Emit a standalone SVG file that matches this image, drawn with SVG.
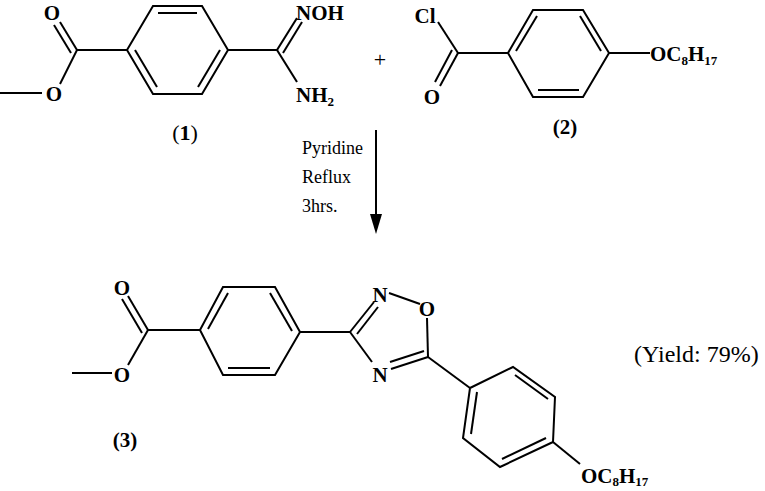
<svg xmlns="http://www.w3.org/2000/svg" width="765" height="491" viewBox="0 0 765 491">
<style>
line,polyline,polygon.r{stroke:#000;stroke-width:2;fill:none}
text{font-family:"Liberation Serif",serif;fill:#000}
.a{font-weight:bold;font-size:21px;text-anchor:middle}
.l{font-weight:bold;font-size:21px;text-anchor:start}
.s{font-size:13px}
.c{font-size:18px}
</style>
<rect width="765" height="491" fill="#fff"/>
<g id="m1">
<line x1="0" y1="93" x2="42" y2="93"/>
<text class="a" x="54" y="101">O</text>
<line x1="60" y1="84" x2="77" y2="50"/>
<line x1="77" y1="50" x2="60" y2="22"/><line x1="71" y1="53" x2="54" y2="25"/>
<text class="a" x="52" y="20">O</text>
<line x1="77" y1="50" x2="127" y2="50"/>
<polygon class="r" points="127,50 153,6 202,6 228,50 202,94 153,94"/>
<line x1="158" y1="13" x2="197" y2="13"/><line x1="135" y1="50" x2="157" y2="87"/><line x1="220" y1="50" x2="198" y2="87"/>
<line x1="228" y1="50" x2="277" y2="50"/>
<line x1="277" y1="50" x2="297" y2="18"/><line x1="283" y1="53" x2="302" y2="22"/>
<text class="l" x="296" y="20">NOH</text>
<line x1="277" y1="50" x2="297" y2="82"/>
<text class="l" x="296" y="102">NH<tspan class="s" dy="4">2</tspan></text>
<text x="185" y="140" font-size="22" text-anchor="middle">(<tspan font-weight="bold">1</tspan>)</text>
</g>
<text x="380" y="67" font-size="22" text-anchor="middle">+</text>
<g id="m2">
<text class="a" x="425" y="23">Cl</text>
<line x1="438" y1="22" x2="458" y2="53"/>
<line x1="458" y1="53" x2="440" y2="86"/><line x1="452" y1="50" x2="435" y2="82"/>
<text class="a" x="432" y="104">O</text>
<line x1="458" y1="53" x2="508" y2="53"/>
<polygon class="r" points="508,53 533,10 583,10 609,53 583,97 533,97"/>
<line x1="516" y1="51" x2="537" y2="16"/><line x1="580" y1="16" x2="601" y2="51"/><line x1="538" y1="90" x2="579" y2="90"/>
<line x1="609" y1="53" x2="650" y2="53"/>
<text class="l" x="650" y="61">OC<tspan class="s" dy="4">8</tspan><tspan dy="-4">H</tspan><tspan class="s" dy="4">17</tspan></text>
<text class="a" x="565" y="134">(2)</text>
</g>
<g id="arrow">
<line x1="376" y1="130" x2="376" y2="218"/>
<polygon points="370,214 376,234 382,214" fill="#000"/>
<text class="c" x="302" y="154">Pyridine</text>
<text class="c" x="302" y="183">Reflux</text>
<text class="c" x="302" y="212">3hrs.</text>
</g>
<g id="m3">
<line x1="72" y1="373" x2="112" y2="373"/>
<text class="a" x="122" y="382">O</text>
<line x1="128" y1="365" x2="148" y2="330"/>
<line x1="148" y1="330" x2="128" y2="296"/><line x1="142" y1="333" x2="122" y2="299"/>
<text class="a" x="122" y="295">O</text>
<line x1="148" y1="330" x2="200" y2="330"/>
<polygon class="r" points="200,330 223,287 275,287 300,332 275,375 223,375"/>
<line x1="208" y1="329" x2="228" y2="293"/><line x1="270" y1="293" x2="292" y2="331"/><line x1="228" y1="368" x2="270" y2="368"/>
<line x1="300" y1="332" x2="350" y2="332"/>
<line x1="350" y1="332" x2="374" y2="302"/><line x1="357" y1="334" x2="378" y2="307"/>
<text class="a" x="380" y="302">N</text>
<line x1="389" y1="293" x2="420" y2="304"/>
<text class="a" x="427" y="316">O</text>
<line x1="427" y1="318" x2="428" y2="357"/>
<line x1="428" y1="357" x2="391" y2="369"/><line x1="424" y1="351" x2="390" y2="362"/>
<text class="a" x="380" y="382">N</text>
<line x1="350" y1="332" x2="372" y2="362"/>
<line x1="428" y1="357" x2="470" y2="388"/>
<polygon class="r" points="470,388 513,367 555,397 553,442 500,467 463,438"/>
<line x1="515" y1="375" x2="548" y2="399"/><line x1="477" y1="392" x2="471" y2="434"/><line x1="502" y1="459" x2="546" y2="438"/>
<line x1="553" y1="442" x2="580" y2="464"/>
<text class="l" x="581" y="483">OC<tspan class="s" dy="3">8</tspan><tspan dy="-3">H</tspan><tspan class="s" dy="3">17</tspan></text>
<text class="a" x="125" y="447">(3)</text>
</g>
<text x="634" y="362" font-size="24">(Yield: 79%)</text>
</svg>
